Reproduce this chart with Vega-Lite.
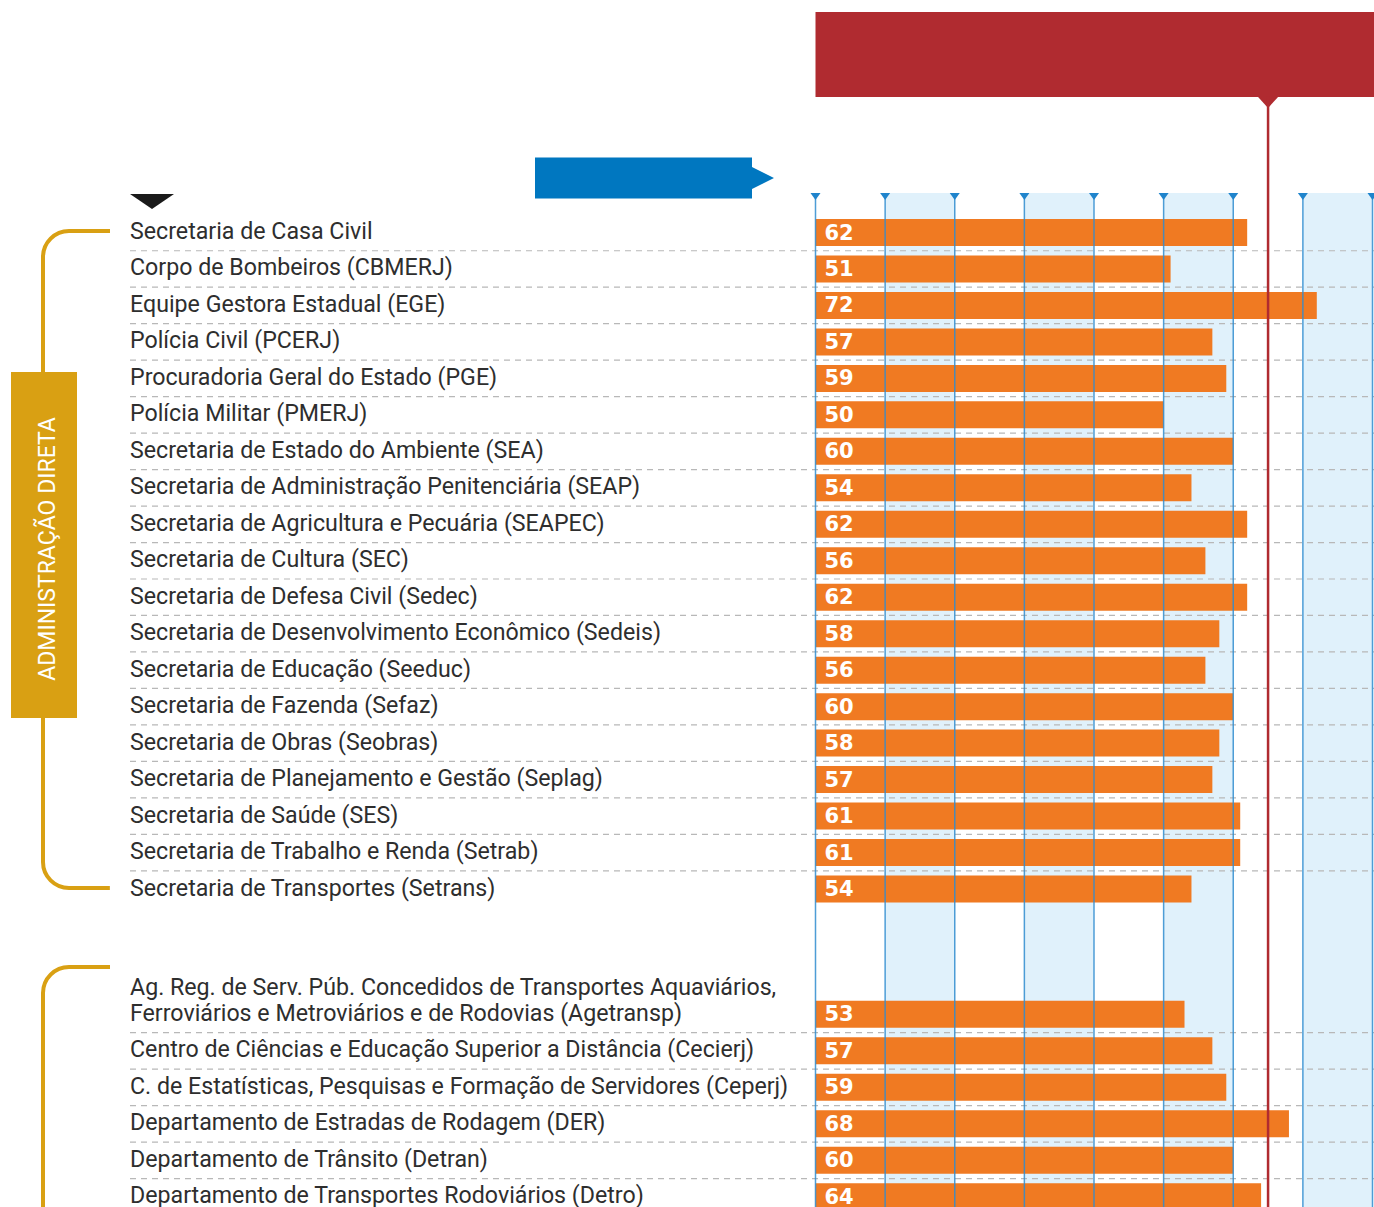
{
  "$schema": "https://vega.github.io/schema/vega-lite/v6.json",
  "autosize": {"type": "none"},
  "padding": {"left": 815.5, "top": 193, "right": 1.5, "bottom": 0},
  "width": 557,
  "height": 1014,
  "background": "white",
  "config": {"view": {"stroke": null}},
  "datasets": {
    "orgs": [
      {"rank": 1, "org": "Secretaria de Casa Civil", "value": 62},
      {"rank": 2, "org": "Corpo de Bombeiros (CBMERJ)", "value": 51},
      {"rank": 3, "org": "Equipe Gestora Estadual (EGE)", "value": 72},
      {"rank": 4, "org": "Polícia Civil (PCERJ)", "value": 57},
      {"rank": 5, "org": "Procuradoria Geral do Estado (PGE)", "value": 59},
      {"rank": 6, "org": "Polícia Militar (PMERJ)", "value": 50},
      {"rank": 7, "org": "Secretaria de Estado do Ambiente (SEA)", "value": 60},
      {"rank": 8, "org": "Secretaria de Administração Penitenciária (SEAP)", "value": 54},
      {"rank": 9, "org": "Secretaria de Agricultura e Pecuária (SEAPEC)", "value": 62},
      {"rank": 10, "org": "Secretaria de Cultura (SEC)", "value": 56},
      {"rank": 11, "org": "Secretaria de Defesa Civil (Sedec)", "value": 62},
      {"rank": 12, "org": "Secretaria de Desenvolvimento Econômico (Sedeis)", "value": 58},
      {"rank": 13, "org": "Secretaria de Educação (Seeduc)", "value": 56},
      {"rank": 14, "org": "Secretaria de Fazenda (Sefaz)", "value": 60},
      {"rank": 15, "org": "Secretaria de Obras (Seobras)", "value": 58},
      {"rank": 16, "org": "Secretaria de Planejamento e Gestão (Seplag)", "value": 57},
      {"rank": 17, "org": "Secretaria de Saúde (SES)", "value": 61},
      {"rank": 18, "org": "Secretaria de Trabalho e Renda (Setrab)", "value": 61},
      {"rank": 19, "org": "Secretaria de Transportes (Setrans)", "value": 54},
      {"rank": 20, "org": "Ag. Reg. de Serv. Púb. Concedidos de Transportes Aquaviários,\nFerroviários e Metroviários e de Rodovias (Agetransp)", "value": 53},
      {"rank": 21, "org": "Centro de Ciências e Educação Superior a Distância (Cecierj)", "value": 57},
      {"rank": 22, "org": "C. de Estatísticas, Pesquisas e Formação de Servidores (Ceperj)", "value": 59},
      {"rank": 23, "org": "Departamento de Estradas de Rodagem (DER)", "value": 68},
      {"rank": 24, "org": "Departamento de Trânsito (Detran)", "value": 60},
      {"rank": 25, "org": "Departamento de Transportes Rodoviários (Detro)", "value": 64}
    ],
    "bands": [
      {"from": 10, "to": 20},
      {"from": 30, "to": 40},
      {"from": 50, "to": 60},
      {"from": 70, "to": 80}
    ],
    "ticks": [
      {"t": 0}, {"t": 10}, {"t": 20}, {"t": 30}, {"t": 40},
      {"t": 50}, {"t": 60}, {"t": 70}, {"t": 80}
    ],
    "one": [{"n": 1}]
  },
  "data": {"name": "orgs"},
  "layer": [
    {
      "data": {"name": "bands"},
      "mark": {"type": "rect", "color": "#E0F1FB"},
      "encoding": {
        "x": {"field": "from", "type": "quantitative", "axis": null, "scale": {"domain": [0, 80], "nice": false, "zero": true, "padding": 0}},
        "x2": {"field": "to"}
      }
    },
    {
      "transform": [{"filter": "datum.rank != 19 && datum.rank != 25"}],
      "mark": {"type": "rule", "strokeDash": [6, 5], "color": "#B8B8B8", "strokeWidth": 1.2, "yOffset": 18.25, "xOffset": -685.5, "x2Offset": 2},
      "encoding": {
        "x": {"datum": 0, "axis": null},
        "x2": {"datum": 80},
        "y": {"field": "rank", "type": "quantitative", "axis": null}
      }
    },
    {
      "mark": {"type": "bar", "orient": "horizontal", "size": 27, "color": "#F07A22"},
      "encoding": {
        "x": {"field": "value", "type": "quantitative", "axis": null},
        "y": {
          "field": "rank", "type": "quantitative",
          "scale": {"domain": [1, 19, 20, 25], "range": [39.5, 696, 821.3, 1003.8], "zero": false, "nice": false, "padding": 0},
          "axis": null
        }
      }
    },
    {
      "mark": {"type": "text", "align": "left", "baseline": "middle", "dx": 9, "dy": 1, "font": "DejaVu Sans", "fontWeight": "bold", "fontSize": 21, "color": "white"},
      "encoding": {
        "x": {"datum": 0, "axis": null},
        "y": {"field": "rank", "type": "quantitative", "axis": null},
        "text": {"field": "value", "type": "quantitative"}
      }
    },
    {
      "data": {"name": "ticks"},
      "mark": {"type": "rule", "color": "#2F8CCF", "strokeWidth": 1.5, "opacity": 0.85},
      "encoding": {
        "x": {"field": "t", "type": "quantitative", "axis": null}
      }
    },
    {
      "data": {"name": "ticks"},
      "mark": {"type": "point", "filled": true, "opacity": 1, "color": "#1F84CC", "shape": "M-1,-0.7L1,-0.7L0,0.7Z", "size": 100, "yOffset": -36},
      "encoding": {
        "x": {"field": "t", "type": "quantitative", "axis": null},
        "y": {"datum": 1, "axis": null}
      }
    },
    {
      "transform": [{"filter": "datum.rank != 20"}],
      "mark": {"type": "text", "align": "left", "baseline": "alphabetic", "dx": -685.5, "dy": 6.5, "font": "Roboto", "fontSize": 23.2, "color": "#2E2E2E"},
      "encoding": {
        "x": {"datum": 0, "axis": null},
        "y": {"field": "rank", "type": "quantitative", "axis": null},
        "text": {"field": "org", "type": "nominal"}
      }
    },
    {
      "transform": [{"filter": "datum.rank == 20"}],
      "mark": {"type": "text", "align": "left", "baseline": "alphabetic", "dx": -685.5, "dy": -19.5, "font": "Roboto", "fontSize": 23.2, "color": "#2E2E2E", "lineBreak": "\n", "lineHeight": 26},
      "encoding": {
        "x": {"datum": 0, "axis": null},
        "y": {"field": "rank", "type": "quantitative", "axis": null},
        "text": {"field": "org", "type": "nominal"}
      }
    },
    {
      "data": {"name": "one"},
      "mark": {"type": "rect", "color": "#B02B30", "yOffset": -220.5, "y2Offset": -135.5, "x2Offset": 2},
      "encoding": {
        "x": {"datum": 0, "axis": null},
        "x2": {"datum": 80},
        "y": {"datum": 1, "axis": null},
        "y2": {"datum": 1}
      }
    },
    {
      "data": {"name": "one"},
      "mark": {"type": "point", "filled": true, "opacity": 1, "color": "#B02B30", "shape": "M-1,-0.55L1,-0.55L0,0.55Z", "size": 400, "yOffset": -130},
      "encoding": {
        "x": {"datum": 65, "axis": null},
        "y": {"datum": 1, "axis": null}
      }
    },
    {
      "data": {"name": "one"},
      "mark": {"type": "rule", "color": "#B02B30", "strokeWidth": 2.5, "yOffset": -136, "y2Offset": 60},
      "encoding": {
        "x": {"datum": 65, "axis": null},
        "y": {"datum": 1, "axis": null},
        "y2": {"datum": 25}
      }
    },
    {
      "data": {"name": "one"},
      "mark": {"type": "point", "filled": true, "opacity": 1, "color": "#0077C0", "shape": "M-1,-0.1715L0.8159,-0.1715L0.8159,-0.092L1,0L0.8159,0.092L0.8159,0.1715L-1,0.1715Z", "size": 57121, "xOffset": -161, "yOffset": -54.5},
      "encoding": {
        "x": {"datum": 0, "axis": null},
        "y": {"datum": 1, "axis": null}
      }
    },
    {
      "data": {"name": "one"},
      "mark": {"type": "point", "filled": true, "opacity": 1, "color": "#1A1A1A", "shape": "M-1,-0.34L1,-0.34L0,0.34Z", "size": 1936, "xOffset": -663.5, "yOffset": -31},
      "encoding": {
        "x": {"datum": 0, "axis": null},
        "y": {"datum": 1, "axis": null}
      }
    },
    {
      "data": {"name": "one"},
      "mark": {"type": "rect", "fill": "#D9A013", "fillOpacity": 0, "stroke": "#D9A013", "strokeWidth": 4, "cornerRadius": 26, "strokeDash": [41, 686.7, 727.7, 2000], "xOffset": -772.5, "x2Offset": -679.5, "yOffset": -1.5, "y2Offset": -1},
      "encoding": {
        "x": {"datum": 0, "axis": null},
        "x2": {"datum": 0},
        "y": {"datum": 1, "axis": null},
        "y2": {"datum": 19}
      }
    },
    {
      "data": {"name": "one"},
      "mark": {"type": "rect", "fill": "#D9A013", "fillOpacity": 0, "stroke": "#D9A013", "strokeWidth": 4, "cornerRadius": 26, "strokeDash": [41, 509.5, 3000, 10], "xOffset": -772.5, "x2Offset": -679.5, "yOffset": -47.3, "y2Offset": 250},
      "encoding": {
        "x": {"datum": 0, "axis": null},
        "x2": {"datum": 0},
        "y": {"datum": 20, "axis": null},
        "y2": {"datum": 25}
      }
    },
    {
      "data": {"name": "one"},
      "mark": {"type": "rect", "color": "#D9A013", "xOffset": -804.5, "x2Offset": -738.5, "yOffset": 139.5, "y2Offset": 485.5},
      "encoding": {
        "x": {"datum": 0, "axis": null},
        "x2": {"datum": 0},
        "y": {"datum": 1, "axis": null},
        "y2": {"datum": 1}
      }
    },
    {
      "data": {"name": "one"},
      "mark": {"type": "text", "text": "ADMINISTRAÇÃO DIRETA", "angle": 270, "align": "center", "baseline": "middle", "font": "Roboto", "fontSize": 23, "color": "white", "xOffset": -768, "yOffset": 316.5},
      "encoding": {
        "x": {"datum": 0, "axis": null},
        "y": {"datum": 1, "axis": null}
      }
    }
  ]
}
